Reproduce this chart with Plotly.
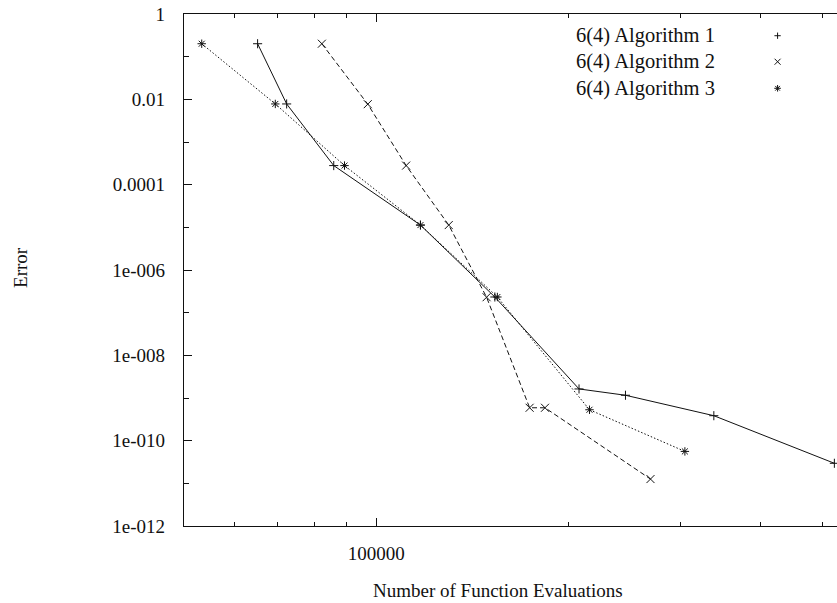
import plotly.graph_objects as go

# Number of function evaluations and achieved error for each 6(4) variant
evals_alg1 = [65200, 72400, 85800, 117300, 153400, 207800, 245700, 337900, 521900]
err_alg1 = [0.201, 7.8e-3, 2.8e-4, 1.13e-5, 2.33e-7, 1.63e-9, 1.16e-9, 3.85e-10, 2.95e-11]

evals_alg2 = [82200, 97000, 111400, 129900, 148900, 173900, 183800, 268900]
err_alg2 = [0.201, 7.7e-3, 2.8e-4, 1.13e-5, 2.3e-7, 5.9e-10, 5.9e-10, 1.26e-11]

evals_alg3 = [53300, 69500, 89200, 117300, 154800, 215800, 304400]
err_alg3 = [0.201, 7.8e-3, 2.8e-4, 1.13e-5, 2.33e-7, 5.3e-10, 5.6e-11]

series_names = ["6(4) Algorithm 1", "6(4) Algorithm 2", "6(4) Algorithm 3"]

y_major = [1, 1e-2, 1e-4, 1e-6, 1e-8, 1e-10, 1e-12]
y_major_text = ["1", "0.01", "0.0001", "1e-006", "1e-008", "1e-010", "1e-012"]
y_minor = [1e-1, 1e-3, 1e-5, 1e-7, 1e-9, 1e-11]
x_major = [100000]
x_major_text = ["100000"]
x_minor = [60000, 70000, 80000, 90000, 200000, 300000, 400000, 500000]

FONT = "Liberation Serif"
INK = "#111111"

styles = [
    dict(symbol="cross-thin", size=6.5, dash="solid"),
    dict(symbol="x-thin", size=8, dash="5px,3px"),
    dict(symbol="asterisk", size=7, dash="1.5px,2px"),
]
data = [(evals_alg1, err_alg1), (evals_alg2, err_alg2), (evals_alg3, err_alg3)]

fig = go.Figure()
for (xs, ys), st, name in zip(data, styles, series_names):
    fig.add_trace(go.Scatter(
        x=xs, y=ys, name=name, mode="lines+markers",
        line=dict(color=INK, width=1, dash=st["dash"]),
        marker=dict(symbol=st["symbol"], size=st["size"],
                    line=dict(color=INK, width=1), color=INK),
        showlegend=False,
    ))

# Key: labels on the left, point symbols on the right
key_rows = [0.9576, 0.9068, 0.8549]
key_sizes = [4.5, 6, 5.5]
for st, name, yk, sz in zip(styles, series_names, key_rows, key_sizes):
    fig.add_trace(go.Scatter(
        x=[0.909], y=[yk], mode="markers", xaxis="x2", yaxis="y2",
        marker=dict(symbol=st["symbol"], size=sz,
                    line=dict(color=INK, width=1), color=INK),
        showlegend=False, hoverinfo="skip",
    ))
    fig.add_annotation(x=0.5975, y=yk, xref="paper", yref="paper",
                       text=name, showarrow=False, xanchor="left",
                       yanchor="middle", font=dict(family=FONT, size=20.5, color=INK))

fig.add_annotation(x=0.4809, y=-0.125, xref="paper", yref="paper",
                   text="Number of Function Evaluations", showarrow=False,
                   xanchor="center", yanchor="middle",
                   font=dict(family=FONT, size=19, color=INK))
fig.add_annotation(x=-0.2496, y=0.504, xref="paper", yref="paper",
                   text="Error", showarrow=False, textangle=-90,
                   xanchor="center", yanchor="middle",
                   font=dict(family=FONT, size=19, color=INK))

fig.update_layout(
    width=837, height=603,
    margin=dict(l=184, r=0, t=14, b=77),
    paper_bgcolor="white", plot_bgcolor="white",
    font=dict(family=FONT, size=19, color=INK),
    xaxis=dict(
        type="log", range=[4.69897, 5.7217],
        tickvals=x_major, ticktext=x_major_text,
        ticks="inside", ticklen=8, tickwidth=1, tickcolor=INK,
        minor=dict(tickvals=x_minor, ticks="inside", ticklen=4,
                   tickwidth=1, tickcolor=INK, showgrid=False),
        showgrid=False, zeroline=False,
        showline=True, linecolor=INK, linewidth=1.3, mirror="allticks",
        ticklabelstandoff=10,
    ),
    yaxis=dict(
        type="log", range=[-12, 0],
        tickvals=y_major, ticktext=y_major_text,
        ticks="inside", ticklen=8, tickwidth=1, tickcolor=INK,
        minor=dict(tickvals=y_minor, ticks="inside", ticklen=5,
                   tickwidth=1, tickcolor=INK, showgrid=False),
        showgrid=False, zeroline=False,
        showline=True, linecolor=INK, linewidth=1.3, mirror=False,
        ticklabelstandoff=14,
    ),
    xaxis2=dict(overlaying="x", range=[0, 1], visible=False),
    yaxis2=dict(overlaying="y", range=[0, 1], visible=False),
)

fig.write_html("out.html")
